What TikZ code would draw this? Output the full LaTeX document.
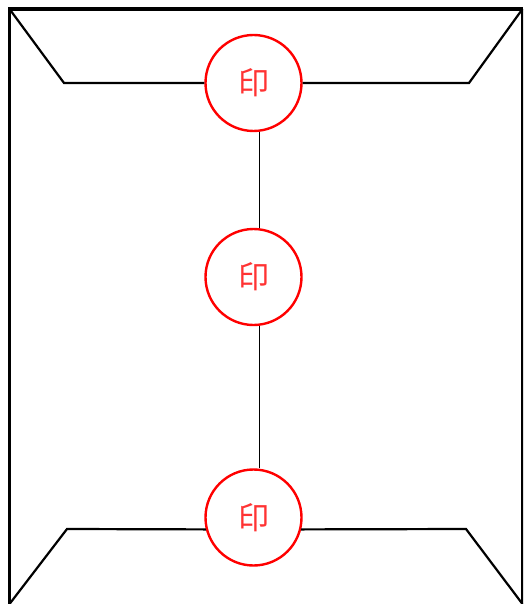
\documentclass[tikz,border=0pt]{standalone}
\usepackage{fontspec}
\newfontfamily\cjk{Noto Sans CJK JP}
\newcommand{\sealmark}{\raisebox{-1.5pt}{\hspace{1.5pt}印}}
\begin{document}
\begin{tikzpicture}[x=1pt,y=-1pt,
  outline/.style={draw=black,line width=2.2pt,line join=miter},
  link/.style={draw=black,line width=1.1pt},
  seal/.style={circle,draw=red,line width=2.4pt,minimum size=96pt,inner sep=0pt,text=red!80!white,font=\cjk\fontsize{31pt}{31pt}\selectfont}]
\useasboundingbox (0,0) rectangle (523,604);
\begin{scope}
\clip (0,0) rectangle (523,604);
\node[seal] (s1) at (253.5,83) {\sealmark};
\node[seal] (s2) at (253.5,277) {\sealmark};
\node[seal] (s3) at (253.5,517.5) {\sealmark};
\coordinate (tl) at (9.5,9);
\coordinate (tr) at (522.5,9);
\coordinate (bl) at (9.5,604);
\coordinate (br) at (522.5,604);
\coordinate (f1) at (64,83);
\coordinate (f2) at (469,83);
\coordinate (f3) at (67,529);
\coordinate (f4) at (466,529);
\draw[outline,line width=3.2pt] (bl) -- (tl) -- (tr);
\draw[outline] (tr) -- (br);
\draw[outline] (tl) -- (f1) -- (s1.west);
\draw[outline] (s1.east) -- (f2) -- (tr);
\draw[outline] (bl) -- (f3) -- (s3.194);
\draw[outline] (s3.-14) -- (f4) -- (br);
\draw[link] ([xshift=6pt]s1.south) -- ([xshift=6pt]s2.north);
\draw[link] ([xshift=6pt]s2.south) -- ([xshift=6pt]s3.north);
\end{scope}
\end{tikzpicture}
\end{document}
